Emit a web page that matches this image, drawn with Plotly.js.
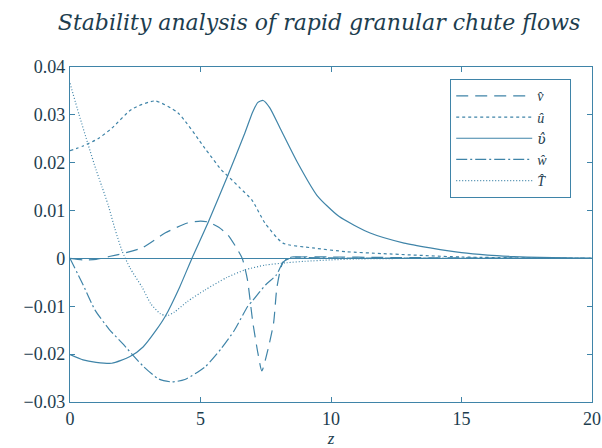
<!DOCTYPE html>
<html>
<head>
<meta charset="utf-8">
<script src="https://cdn.plot.ly/plotly-3.0.1.min.js"></script>
<style>html,body{margin:0;padding:0;background:#fff;}#chart{width:602px;height:448px;}</style>
</head>
<body>
<div id="chart"></div>
<script>
// Series names
const names = ["<i>v\u0302</i>", "<i>u\u0302</i>", "<span style=\"font-family:'DejaVu Serif'\"><i>\u028b\u0302</i></span>", "<i>w\u0302</i>", "<i>T\u0302</i>"];

// v-hat (long dashes)
const zV = [0, 0.5, 1, 1.5, 2, 2.76, 3.64, 4.5, 5.0, 5.3, 5.7, 6.05, 6.4, 6.6, 6.8, 7.0, 7.2, 7.35, 7.55, 7.8, 7.93, 8.16, 8.5, 10, 12, 15, 20];
const vV = [0, -0.0003, -0.0002, 0.0004, 0.001, 0.0022, 0.0053, 0.0074, 0.0078, 0.0076, 0.0065, 0.0049, 0.002, 0, -0.0045, -0.0132, -0.0198, -0.0235, -0.0198, -0.0135, -0.006, -0.0008, 0.0002, 0.0003, 0.0002, 0.0001, 0];

// u-hat (short dashes)
const zU = [0, 0.5, 1.07, 1.6, 2.37, 3.26, 4.14, 5.17, 5.8, 6.13, 6.5, 6.97, 7.47, 8.16, 9.3, 10.6, 12, 15, 20];
const vU = [0.0225, 0.0235, 0.025, 0.0272, 0.0312, 0.0329, 0.0304, 0.023, 0.0185, 0.0168, 0.0148, 0.0122, 0.0074, 0.0032, 0.0022, 0.0014, 0.001, 0.0003, 0];

// third eigenfunction (solid)
const zC = [0, 0.5, 1, 1.6, 2.3, 2.8, 3.3, 3.64, 4.2, 4.67, 5.3, 6.05, 6.7, 7.0, 7.2, 7.4, 7.65, 8.05, 8.7, 9.46, 10.3, 11.5, 12.8, 13.8, 15, 16, 17, 18, 20];
const vC = [-0.0201, -0.0212, -0.0217, -0.0219, -0.0205, -0.0185, -0.015, -0.0122, -0.006, 0, 0.0076, 0.0174, 0.0262, 0.0306, 0.0326, 0.0330, 0.0315, 0.0272, 0.0202, 0.0132, 0.0088, 0.0053, 0.0032, 0.0022, 0.0012, 0.0007, 0.0004, 0.0002, 0];

// w-hat (dash-dot)
const zW = [0, 0.5, 0.96, 1.5, 2.0, 2.8, 3.4, 3.9, 4.4, 5.17, 5.8, 6.3, 6.8, 7.0, 7.5, 7.9, 8.2, 8.5, 9, 10, 20];
const vW = [0, -0.0055, -0.0108, -0.0148, -0.0177, -0.0225, -0.0252, -0.0258, -0.0253, -0.0227, -0.0188, -0.015, -0.0101, -0.0088, -0.0055, -0.0035, -0.0005, 0.0003, 0.0002, 0.0001, 0];

// T-hat (dotted)
const zT = [0, 0.35, 0.7, 1.0, 1.23, 1.46, 1.72, 2.0, 2.3, 2.76, 3.1, 3.45, 3.7, 4.0, 4.5, 5.17, 6.0, 6.7, 7.47, 8.3, 9, 10, 11, 13, 20];
const vT = [0.0366, 0.030, 0.0237, 0.0185, 0.0149, 0.0112, 0.0062, 0.0015, -0.002, -0.006, -0.0095, -0.0115, -0.012, -0.0112, -0.009, -0.0066, -0.004, -0.0024, -0.0014, -0.0009, -0.0006, -0.0003, -0.0001, 0, 0];

// Tick labels
const xTicks = [0, 5, 10, 15, 20];
const yTicks = [-0.03, -0.02, -0.01, 0, 0.01, 0.02, 0.03, 0.04];
const yTickText = ["\u22120.03", "\u22120.02", "\u22120.01", "0", "0.01", "0.02", "0.03", "0.04"];

const col = "#3f84a8";
const txt = "#1d3d4e";
const serif = "'Liberation Serif', 'Times New Roman', serif";
const pad = "\u00a0\u00a0\u00a0\u00a0\u00a0";

const series = [[zV, vV, "12px,7px"], [zU, vU, "3px,3px"], [zC, vC, "solid"], [zW, vW, "11px,3px,2px,3px"], [zT, vT, "1px,2px"]];
const traces = series.map((s, i) => ({
  x: s[0], y: s[1], name: names[i] + pad, type: "scatter", mode: "lines",
  line: {color: col, width: 1.2, dash: s[2], shape: "spline", smoothing: 0.6}
}));

const axisCommon = {
  showline: true, mirror: "ticks", linecolor: col, linewidth: 1.2,
  ticks: "inside", ticklen: 5, tickcolor: col, tickwidth: 1,
  showgrid: false, tickfont: {family: serif, size: 18, color: txt}
};

const layout = {
  width: 602, height: 448,
  margin: {l: 70, r: 10, t: 67, b: 46},
  paper_bgcolor: "#fff", plot_bgcolor: "#fff",
  title: {text: "Stability analysis of rapid granular chute flows", x: 0.53, xanchor: "center", y: 0.95, yanchor: "middle",
          font: {family: "'DejaVu Serif', serif", size: 22, style: "italic", color: txt}},
  xaxis: Object.assign({}, axisCommon, {range: [0, 20], tickvals: xTicks, ticktext: xTicks.map(String), zeroline: false,
          title: {text: "<i>z</i>", font: {family: serif, size: 17, color: txt}, standoff: 9}}),
  yaxis: Object.assign({}, axisCommon, {range: [-0.03, 0.04], tickvals: yTicks, ticktext: yTickText,
          zeroline: true, zerolinecolor: col, zerolinewidth: 1.2}),
  showlegend: true,
  legend: {x: 0.728, xanchor: "left", y: 0.964, yanchor: "top", bordercolor: col, borderwidth: 1.2,
           bgcolor: "#fff", font: {family: serif, size: 14, color: txt}, itemwidth: 76, tracegroupgap: 0}
};

Plotly.newPlot("chart", traces, layout, {displayModeBar: false, staticPlot: true});
</script>
</body>
</html>
